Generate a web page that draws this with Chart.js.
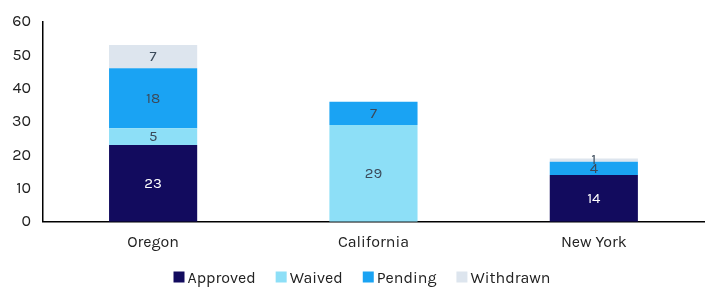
<!DOCTYPE html>
<html>
<head>
<meta charset="utf-8">
<script src="https://cdn.jsdelivr.net/npm/chart.js@4/dist/chart.umd.min.js"></script>
<style>
  html, body { margin: 0; padding: 0; background: #fff; }
  #wrap { width: 720px; height: 302px; }
</style>
</head>
<body>
<div id="wrap"><canvas id="chart"></canvas></div>
<script>
"use strict";
const states = ['Oregon', 'California', 'New York'];
const approved = [23, 0, 14];
const waived = [5, 29, 0];
const pending = [18, 7, 4];
const withdrawn = [7, 0, 1];
const yTicks = [0, 10, 20, 30, 40, 50, 60];

const fontFamily = 'Karla, Lato, "Noto Sans", sans-serif';

// draws the value in the middle of each segment, zeros left out
const segmentLabels = {
  id: 'segmentLabels',
  afterDatasetsDraw(chart) {
    const ctx = chart.ctx;
    ctx.save();
    ctx.font = '15px ' + fontFamily;
    ctx.textAlign = 'center';
    ctx.textBaseline = 'middle';
    chart.data.datasets.forEach((ds, i) => {
      const meta = chart.getDatasetMeta(i);
      meta.data.forEach((bar, j) => {
        const v = ds.data[j];
        if (!v) return;
        ctx.fillStyle = ds.labelColor;
        ctx.fillText(String(v), bar.x, (bar.y + bar.base) / 2);
      });
    });
    ctx.restore();
  }
};

// legend drawn by hand: tight box-to-text gap, wider gap between items
const bottomLegend = {
  id: 'bottomLegend',
  afterDraw(chart) {
    const ctx = chart.ctx;
    const box = 11, gap = 3, spacing = 20, y = 277;
    ctx.save();
    ctx.font = '16px ' + fontFamily;
    ctx.textBaseline = 'middle';
    const items = chart.data.datasets.map(ds => ({
      text: ds.label, color: ds.backgroundColor, w: ctx.measureText(ds.label).width
    }));
    const total = items.reduce((s, it) => s + box + gap + it.w, 0) + spacing * (items.length - 1);
    let x = 362 - total / 2;
    items.forEach(it => {
      ctx.fillStyle = it.color;
      ctx.fillRect(x, y - box / 2, box, box);
      ctx.fillStyle = '#222';
      ctx.fillText(it.text, x + box + gap, y + 1);
      x += box + gap + it.w + spacing;
    });
    ctx.restore();
  }
};

const ctx = document.getElementById('chart').getContext('2d');
new Chart(ctx, {
  type: 'bar',
  data: {
    labels: states,
    datasets: [
      { label: 'Approved', data: approved, backgroundColor: '#120b5e', labelColor: '#ffffff' },
      { label: 'Waived', data: waived, backgroundColor: '#8ddff7', labelColor: '#3b4a5a' },
      { label: 'Pending', data: pending, backgroundColor: '#1aa3f3', labelColor: '#3b4a5a' },
      { label: 'Withdrawn', data: withdrawn, backgroundColor: '#dde5ee', labelColor: '#3b4a5a' }
    ]
  },
  options: {
    responsive: true,
    maintainAspectRatio: false,
    animation: false,
    datasets: { bar: { categoryPercentage: 1, barPercentage: 0.4 } },
    layout: { padding: { top: 12, right: 16, left: 0, bottom: 39 } },
    scales: {
      x: {
        stacked: true,
        grid: { display: false, drawTicks: false },
        border: { display: true, color: '#000', width: 1.5 },
        ticks: { color: '#222', font: { family: fontFamily, size: 16 }, padding: 11 }
      },
      y: {
        stacked: true,
        min: 0,
        max: 60,
        afterBuildTicks(scale) { scale.ticks = yTicks.map(v => ({ value: v })); },
        grid: { display: false, drawTicks: false },
        border: { display: true, color: '#000', width: 1.5 },
        ticks: { color: '#222', font: { family: fontFamily, size: 16 }, padding: 12 }
      }
    },
    plugins: {
      tooltip: { enabled: false },
      legend: { display: false }
    }
  },
  plugins: [segmentLabels, bottomLegend]
});
</script>
</body>
</html>
